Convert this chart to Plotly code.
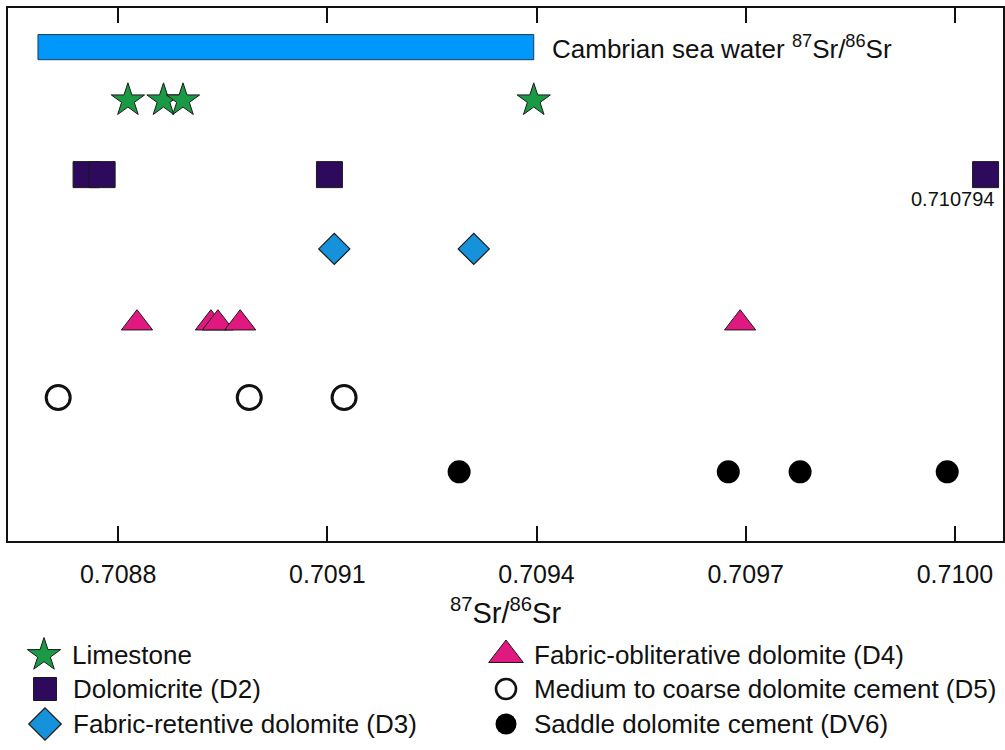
import plotly.graph_objects as go

# ---------------- data ----------------
limestone = [0.708814, 0.708865, 0.708893, 0.709396]
dolomicrite_d2 = [0.708754, 0.708777, 0.709103, 0.710794]
fabric_retentive_d3 = [0.709110, 0.709310]
fabric_obliterative_d4 = [0.708827, 0.708933, 0.708943, 0.708975, 0.709692]
medium_coarse_d5 = [0.708714, 0.708988, 0.709124]
saddle_dv6 = [0.709289, 0.709675, 0.709778, 0.709989]
seawater_range = [0.708685, 0.709396]
tick_values = [0.7088, 0.7091, 0.7094, 0.7097, 0.7100]
tick_labels = ["0.7088", "0.7091", "0.7094", "0.7097", "0.7100"]

# ---------------- layout constants ----------------
X_RANGE = [0.708642, 0.710069]
X_BREAK = 0.710044          # off-scale values are drawn at the right edge
Y_RANGE = [0.068, 7.243]
BAR_ROW, BAR_HALF = 6.716, 0.169
FONT = "Liberation Sans, Arial, sans-serif"

series = [
    dict(name="Limestone", x=limestone, row=6, symbol="star", size=25,
         color="#1a9a45", line="#1a1a1a", lw=1, lsize=25),
    dict(name="Dolomicrite (D2)", x=dolomicrite_d2, row=5, symbol="square", size=26,
         color="#2d0a5c", line="#1a1a1a", lw=1, lsize=23),
    dict(name="Fabric-retentive dolomite (D3)", x=fabric_retentive_d3, row=4, symbol="diamond", size=24,
         color="#1592d9", line="#1a1a1a", lw=1.2, lsize=25),
    dict(name="Fabric-obliterative dolomite (D4)", x=fabric_obliterative_d4, row=3, symbol="triangle-up", size=27,
         color="#e1187f", line="#1a1a1a", lw=1, lsize=30),
    dict(name="Medium to coarse dolomite cement (D5)", x=medium_coarse_d5, row=2, symbol="circle-open", size=24,
         color="#111111", line="#111111", lw=3, lsize=20),
    dict(name="Saddle dolomite cement (DV6)", x=saddle_dv6, row=1, symbol="circle", size=23,
         color="#000000", line="#000000", lw=0, lsize=21),
]

# legend placement in pixel coordinates (auxiliary axis)
LEG_POS = [(44, 655), (45, 689), (45, 724), (506, 655), (506, 689), (506, 724)]
LEG_TEXT_DX = 26

fig = go.Figure()

for s in series:
    xs = [min(v, X_BREAK) for v in s["x"]]
    fig.add_trace(go.Scatter(
        x=xs, y=[s["row"]] * len(xs), mode="markers", name=s["name"],
        marker=dict(symbol=s["symbol"], size=s["size"], color=s["color"],
                    line=dict(color=s["line"], width=s["lw"])),
        cliponaxis=False, showlegend=False, hoverinfo="x"))

# custom legend
for s, (px, py) in zip(series, LEG_POS):
    fig.add_trace(go.Scatter(
        x=[px], y=[py], xaxis="x2", yaxis="y2", mode="markers",
        marker=dict(symbol=s["symbol"], size=s["lsize"], color=s["color"],
                    line=dict(color=s["line"], width=s["lw"] if s["lw"] < 3 else 2.6)),
        cliponaxis=False, showlegend=False, hoverinfo="skip"))
    fig.add_annotation(x=px + LEG_TEXT_DX, y=py, xref="x2", yref="y2", text=s["name"],
                       showarrow=False, xanchor="left", yanchor="middle",
                       font=dict(family=FONT, size=26, color="#111111"))

# Cambrian seawater bar
fig.add_shape(type="rect", x0=seawater_range[0], x1=seawater_range[1],
              y0=BAR_ROW - BAR_HALF, y1=BAR_ROW + BAR_HALF, xref="x", yref="y",
              fillcolor="#0098fa", line=dict(color="#1a3a5a", width=1))
fig.add_annotation(x=seawater_range[1], y=BAR_ROW, xref="x", yref="y",
                   text="Cambrian sea water <sup>87</sup>Sr/<sup>86</sup>Sr",
                   showarrow=False, xanchor="left", yanchor="middle", xshift=16,
                   font=dict(family=FONT, size=26, color="#111111"))

# off-scale label
outlier = max(dolomicrite_d2)
fig.add_annotation(x=min(outlier, X_BREAK), y=5, xref="x", yref="y",
                   text=f"{outlier:.6f}", showarrow=False, xanchor="right", yanchor="middle",
                   xshift=10, yshift=-24, font=dict(family=FONT, size=20, color="#111111"))

fig.update_layout(
    width=1005, height=750,
    margin=dict(l=8, r=2, t=8, b=0),
    paper_bgcolor="white", plot_bgcolor="white",
    font=dict(family=FONT, color="#111111"),
    xaxis=dict(range=X_RANGE, tickvals=tick_values, ticktext=tick_labels,
               ticks="inside", ticklen=15, tickwidth=2, tickcolor="#111111",
               showline=True, linecolor="#111111", linewidth=2, mirror="ticks",
               showgrid=False, zeroline=False, ticklabelstandoff=10,
               tickfont=dict(family=FONT, size=25, color="#111111"),
               title=dict(text="<sup>87</sup>Sr/<sup>86</sup>Sr",
                          font=dict(family=FONT, size=29, color="#111111"), standoff=16),
               anchor="y"),
    yaxis=dict(range=Y_RANGE, domain=[209 / 742, 1], showticklabels=False, ticks="",
               showline=True, linecolor="#111111", linewidth=2, mirror=True,
               showgrid=False, zeroline=False),
    xaxis2=dict(domain=[0, 1], range=[8, 1003], visible=False, anchor="y2"),
    yaxis2=dict(domain=[0, 200 / 742], range=[750, 550], visible=False, anchor="x2"),
    showlegend=False,
)

fig.write_html("out.html")
